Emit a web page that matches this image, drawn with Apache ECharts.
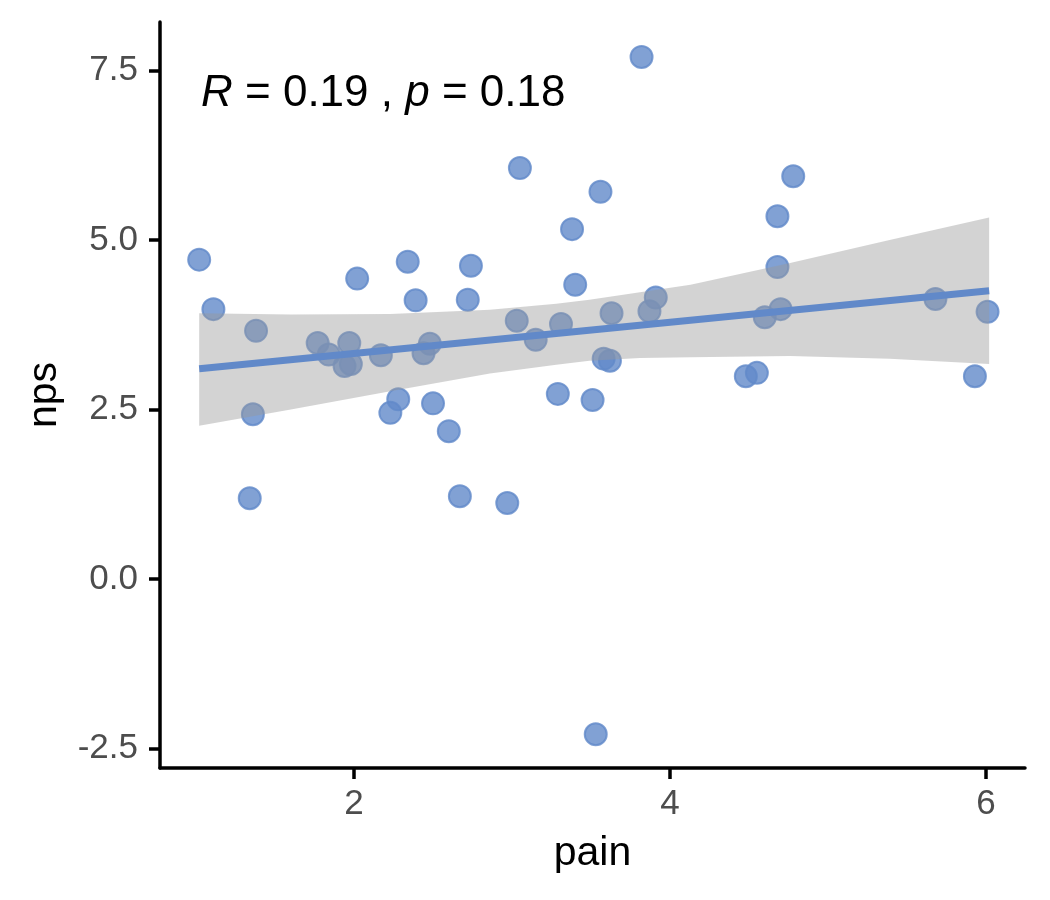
<!DOCTYPE html>
<html>
<head>
<meta charset="utf-8">
<title>nps vs pain</title>
<script src="https://cdn.jsdelivr.net/npm/echarts@6/dist/echarts.min.js"></script>
<style>
  html, body { margin: 0; padding: 0; background: #fff; }
  #chart { width: 1050px; height: 900px; }
</style>
</head>
<body>
<div id="chart"></div>
<script>
// scatter points
const painX = [1.02, 1.11, 1.38, 1.36, 1.34, 1.77, 1.84, 1.97, 1.94, 1.98,
  2.02, 2.17, 2.34, 2.39, 2.48, 2.44, 2.28, 2.23, 2.50, 2.60,
  2.74, 2.72, 2.67, 2.97, 3.05, 3.03, 3.15, 3.31, 3.29, 3.38,
  3.40, 3.56, 3.58, 3.62, 3.63, 3.51, 3.53, 3.82, 3.87, 3.91,
  4.48, 4.55, 4.60, 4.68, 4.68, 4.70, 4.78, 5.68, 5.93, 6.01];
const npsY = [4.71, 3.98, 3.66, 2.43, 1.19, 3.48, 3.31, 3.48, 3.14, 3.17,
  4.43, 3.30, 4.68, 4.11, 3.47, 3.33, 2.65, 2.45, 2.59, 2.18,
  4.62, 4.12, 1.22, 1.12, 6.06, 3.81, 3.53, 3.76, 2.73, 5.16,
  4.34, 5.71, 3.25, 3.22, 3.92, 2.64, -2.29, 7.70, 3.95, 4.15,
  2.99, 3.04, 3.86, 4.60, 5.35, 3.98, 5.94, 4.13, 2.99, 3.94];

// fitted line end points and confidence band edges
const fitX = [1.02, 6.02];
const fitY = [3.10, 4.25];
const bandX = [1.02, 1.60, 2.23, 2.86, 3.28, 3.49, 3.81, 4.13, 4.76, 5.39, 6.02];
const bandUpper = [3.92, 3.90, 3.91, 3.97, 4.06, 4.12, 4.23, 4.34, 4.66, 5.00, 5.33];
const bandLower = [2.26, 2.50, 2.77, 3.03, 3.16, 3.22, 3.26, 3.27, 3.29, 3.25, 3.17];

const xTicks = [2, 4, 6];
const yTicks = [-2.5, 0, 2.5, 5, 7.5];

const blue = '#6189c9';
const font = '"Liberation Sans", Arial, sans-serif';

const chart = echarts.init(document.getElementById('chart'));

const axisCommon = {
  axisLine: { show: true, onZero: false, lineStyle: { color: '#000', width: 3.5 } },
  axisTick: { show: true, length: 11, lineStyle: { color: '#000', width: 3.5 } },
  splitLine: { show: false },
  nameTextStyle: { color: '#000', fontSize: 41, fontFamily: font }
};

const option = {
  animation: false,
  backgroundColor: '#fff',
  grid: { left: 160, right: 25, top: 22, bottom: 132 },
  xAxis: {
    ...axisCommon,
    type: 'value',
    min: 0.772,
    max: 6.247,
    name: 'pain',
    nameLocation: 'middle',
    nameGap: 65,
    axisTick: { ...axisCommon.axisTick, customValues: xTicks },
    axisLabel: {
      customValues: xTicks,
      color: '#4d4d4d', fontSize: 35, fontFamily: font, margin: 19
    }
  },
  yAxis: {
    ...axisCommon,
    type: 'value',
    min: -2.788,
    max: 8.215,
    name: 'nps',
    nameLocation: 'middle',
    nameRotate: 90,
    nameGap: 95,
    axisTick: { ...axisCommon.axisTick, customValues: yTicks },
    axisLabel: {
      customValues: yTicks,
      color: '#4d4d4d', fontSize: 35, fontFamily: font, margin: 22,
      formatter: v => v.toFixed(1)
    }
  },
  graphic: [{
    type: 'text',
    left: 201,
    top: 72,
    style: {
      text: '{i|R} = 0.19 , {i|p} = 0.18',
      fill: '#000',
      fontSize: 44,
      fontFamily: font,
      rich: {
        i: { fontStyle: 'italic', fontSize: 44, fontFamily: font, fill: '#000' }
      }
    }
  }],
  series: [
    {
      type: 'scatter',
      z: 2,
      symbolSize: 22,
      data: painX.map((x, i) => [x, npsY[i]]),
      itemStyle: { color: blue, opacity: 0.8, borderColor: blue, borderWidth: 2 }
    },
    {
      type: 'custom',
      z: 3,
      silent: true,
      data: bandX.map((x, i) => [x, bandLower[i], bandUpper[i]]),
      encode: { x: 0, y: [1, 2] },
      renderItem: (params, api) => {
        if (params.dataIndex !== 0) return null;
        const top = bandX.map((x, i) => api.coord([x, bandUpper[i]]));
        const bottom = bandX.map((x, i) => api.coord([x, bandLower[i]])).reverse();
        return {
          type: 'polygon',
          shape: { points: top.concat(bottom) },
          style: { fill: '#999999', opacity: 0.43 }
        };
      }
    },
    {
      type: 'line',
      z: 4,
      showSymbol: false,
      data: fitX.map((x, i) => [x, fitY[i]]),
      lineStyle: { color: blue, width: 7 }
    }
  ]
};

chart.setOption(option);
</script>
</body>
</html>
